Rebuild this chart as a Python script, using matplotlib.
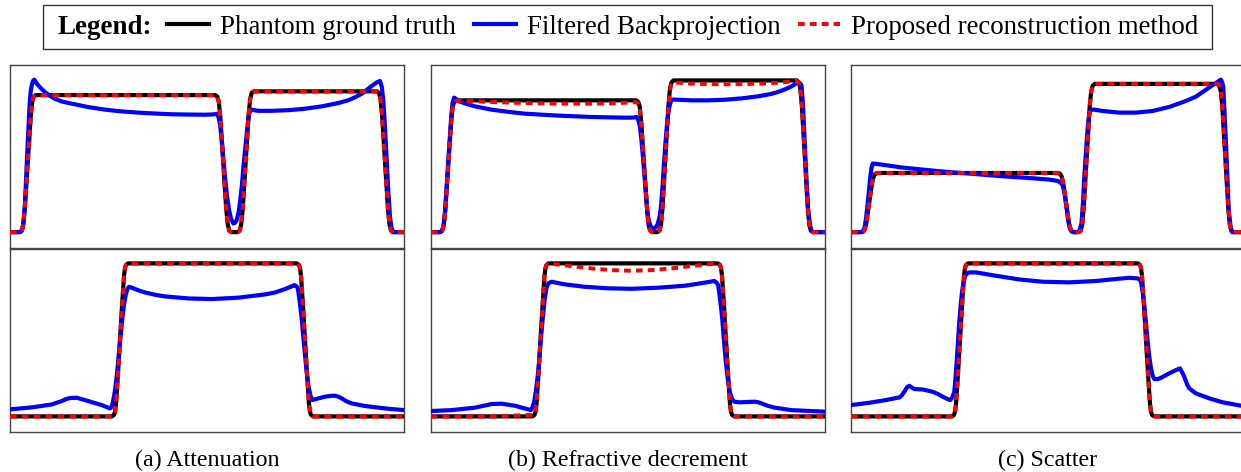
import numpy as np
import matplotlib.pyplot as plt
from matplotlib import rcParams
from matplotlib.patches import Rectangle

# ── Fonts ────────────────────────────────────────────────────────────────────
rcParams['font.family'] = 'serif'
rcParams['font.serif'] = ['Liberation Serif', 'DejaVu Serif']
rcParams['mathtext.fontset'] = 'stix'

# ── Profiles (detector pixel, normalised value) ─────────────────────────────
# top row: line profile 1 / bottom row: line profile 2
gt_a_top = [(0, 0), (9.7, 0), (11.7, 0.01), (13.2, 0.05), (14.7, 0.15), (16.2, 0.30), (17.7, 0.46),
            (19.2, 0.61), (20.7, 0.77), (22.2, 0.87), (23.7, 0.905), (25.7, 0.915),
            (205.3, 0.915), (207.3, 0.905), (208.8, 0.87), (210.3, 0.77), (211.8, 0.61), (213.3, 0.46),
            (214.8, 0.30), (216.3, 0.15), (217.8, 0.05), (219.3, 0.01), (221.3, 0),
            (227.7, 0), (229.7, 0.01), (231.2, 0.05), (232.7, 0.15), (234.2, 0.31), (235.7, 0.47),
            (237.2, 0.63), (238.7, 0.79), (240.2, 0.89), (241.7, 0.93), (243.7, 0.94),
            (367, 0.94), (369, 0.93), (370.5, 0.89), (372, 0.79), (373.5, 0.63), (375, 0.47),
            (376.5, 0.31), (378, 0.15), (379.5, 0.05), (381, 0.01), (383, 0), (394, 0)]
prop_a_top = gt_a_top
fbp_a_top = [(0, 0), (10, 0), (12, 0.01), (13.3, 0.05), (14.7, 0.16), (15.7, 0.30), (16.7, 0.45),
             (17.7, 0.59), (18.7, 0.73), (19.7, 0.86), (20.7, 0.94), (21.7, 0.98), (23, 1.01),
             (24.3, 1.018), (26, 1.0), (28.3, 0.98), (31, 0.96), (35, 0.935), (40, 0.91), (45, 0.89),
             (52, 0.872), (61.7, 0.858), (78.3, 0.835), (95, 0.818), (110, 0.807), (128, 0.798),
             (145, 0.792), (161.7, 0.787), (180, 0.785), (195, 0.784), (203, 0.786), (206.7, 0.79),
             (208.5, 0.77), (210, 0.72), (212, 0.6), (213.5, 0.48), (215, 0.37), (217, 0.24),
             (219, 0.15), (221, 0.09), (223.3, 0.058), (225, 0.062), (226.7, 0.08), (228.5, 0.13),
             (230, 0.2), (231.7, 0.30), (233.5, 0.44), (235.7, 0.59), (237.5, 0.71), (239, 0.79),
             (240.5, 0.812), (241.7, 0.818), (244, 0.814), (248.3, 0.81), (261.7, 0.81), (280, 0.815),
             (295, 0.824), (312, 0.84), (328.3, 0.862), (338, 0.88), (345, 0.90), (352, 0.925),
             (358.3, 0.958), (363, 0.982), (366.7, 1.0), (370, 1.009), (371.8, 0.97), (373.3, 0.88),
             (375, 0.7), (376.7, 0.48), (378.3, 0.28), (380, 0.10), (381.5, 0.03), (383.3, 0), (394, 0)]

gt_b_top = [(0, 0), (9.7, 0), (11.7, 0.01), (13.2, 0.045), (14.7, 0.14), (16.2, 0.29), (17.7, 0.44),
            (19.2, 0.59), (20.7, 0.74), (22.2, 0.84), (23.7, 0.87), (25.7, 0.88),
            (205.7, 0.88), (207.7, 0.87), (209.2, 0.84), (210.7, 0.74), (212.2, 0.59), (213.7, 0.44),
            (215.2, 0.29), (216.7, 0.14), (218.2, 0.045), (219.7, 0.01), (221.7, 0),
            (227, 0), (229, 0.01), (230.5, 0.05), (232, 0.16), (233.5, 0.33), (235, 0.51),
            (236.5, 0.68), (238, 0.85), (239.5, 0.96), (241, 1.0), (243, 1.013),
            (366.3, 1.013), (368.3, 1.0), (369.8, 0.96), (371.3, 0.85), (372.8, 0.68), (374.3, 0.51),
            (375.8, 0.33), (377.3, 0.16), (378.8, 0.05), (380.3, 0.01), (382.3, 0), (394, 0)]
prop_b_top = [(0, 0), (9.7, 0), (11.7, 0.01), (13.2, 0.045), (14.7, 0.14), (16.2, 0.29), (17.7, 0.44),
              (19.2, 0.59), (20.7, 0.74), (22.2, 0.84), (23.7, 0.868), (25.7, 0.878), (40, 0.875),
              (61, 0.869), (94, 0.862), (128, 0.858), (161, 0.858), (185, 0.861), (205.7, 0.868),
              (207.7, 0.86), (209.2, 0.83), (210.7, 0.73), (212.2, 0.58), (213.7, 0.44), (215.2, 0.29),
              (216.7, 0.14), (218.2, 0.045), (219.7, 0.01), (221.7, 0),
              (227, 0), (229, 0.01), (230.5, 0.05), (232, 0.16), (233.5, 0.33), (235, 0.5),
              (236.5, 0.67), (238, 0.84), (239.5, 0.95), (241, 0.99), (243, 1.0), (261, 0.991),
              (294, 0.987), (328, 0.991), (350, 0.999), (366.3, 1.009), (368.3, 1.0), (369.8, 0.96),
              (371.3, 0.85), (372.8, 0.68), (374.3, 0.51), (375.8, 0.33), (377.3, 0.16), (378.8, 0.05),
              (380.3, 0.01), (382.3, 0), (394, 0)]
fbp_b_top = [(0, 0), (9.7, 0), (11.7, 0.01), (13.2, 0.05), (14.7, 0.15), (16.2, 0.31), (17.7, 0.47),
             (19.2, 0.62), (20.7, 0.77), (22, 0.86), (23.7, 0.898), (25.5, 0.89), (27.7, 0.876),
             (35, 0.858), (44.3, 0.84), (61, 0.818), (78, 0.803), (94.3, 0.791), (127.7, 0.778),
             (161, 0.769), (194.3, 0.764), (203, 0.765), (206, 0.769), (207.8, 0.75), (209.3, 0.71),
             (210.7, 0.63), (212.2, 0.52), (213.7, 0.40), (215.2, 0.27), (216.7, 0.15), (218.2, 0.08),
             (220, 0.04), (222.7, 0.024), (225, 0.03), (227, 0.05), (229, 0.1), (230.5, 0.17),
             (232, 0.3), (233.5, 0.46), (235, 0.6), (236.5, 0.72), (237.7, 0.79), (239.3, 0.85),
             (241, 0.884), (244, 0.885), (247.7, 0.884), (261, 0.88), (278, 0.88), (294.3, 0.884),
             (311, 0.893), (327.7, 0.907), (340, 0.922), (347.7, 0.936), (355, 0.955), (361, 0.973),
             (365, 0.99), (367.7, 1.0), (369.5, 0.995), (371, 0.98), (372.5, 0.85), (374.3, 0.59),
             (376, 0.35), (377.7, 0.147), (379.5, 0.05), (380.8, 0.012), (382.7, 0), (394, 0)]

gt_c_top = [(0, 0), (10.3, 0), (12.3, 0.004), (13.8, 0.02), (15.3, 0.06), (16.8, 0.13), (18.3, 0.2),
            (19.8, 0.27), (21.3, 0.335), (22.8, 0.375), (24.3, 0.39), (26.3, 0.395),
            (207, 0.395), (209, 0.39), (210.5, 0.375), (212, 0.335), (213.5, 0.27), (215, 0.2),
            (216.5, 0.13), (218, 0.06), (219.5, 0.02), (221, 0.004), (223, 0),
            (227.7, 0), (229.7, 0.01), (231.2, 0.05), (232.7, 0.16), (234.2, 0.33), (235.7, 0.5),
            (237.2, 0.67), (238.7, 0.84), (240.2, 0.94), (241.7, 0.978), (243.7, 0.99),
            (366.3, 0.99), (368.3, 0.978), (369.8, 0.94), (371.3, 0.84), (372.8, 0.67), (374.3, 0.5),
            (375.8, 0.33), (377.3, 0.16), (378.8, 0.05), (380.3, 0.01), (382.3, 0), (394, 0)]
prop_c_top = gt_c_top
fbp_c_top = [(0, 0), (10, 0), (12, 0.005), (13.5, 0.03), (15, 0.09), (16.5, 0.18), (18, 0.28),
             (19.3, 0.37), (20.5, 0.43), (21.7, 0.458), (24, 0.457), (28.3, 0.453), (40, 0.442),
             (51.7, 0.431), (68, 0.42), (85, 0.409), (100, 0.40), (118.3, 0.391), (135, 0.382),
             (151.7, 0.373), (168, 0.366), (185, 0.358), (198, 0.351), (206.7, 0.342), (209.5, 0.33),
             (211.7, 0.313), (213.5, 0.26), (215, 0.19), (216.7, 0.1), (218.3, 0.036), (220, 0.008),
             (221.7, 0), (226, 0), (228.5, 0.01), (230.5, 0.06), (232, 0.2), (233.3, 0.369),
             (235, 0.54), (236.7, 0.70), (238, 0.78), (239, 0.809), (241, 0.818), (243.3, 0.818),
             (251.7, 0.809), (268.3, 0.798), (285, 0.798), (301.7, 0.809), (318.3, 0.836),
             (335, 0.876), (345, 0.905), (351.7, 0.936), (358, 0.965), (365, 0.996), (368, 1.01),
             (370, 1.018), (371.2, 1.0), (372.3, 0.969), (373.5, 0.8), (375, 0.59), (376.5, 0.35),
             (377.7, 0.147), (379.5, 0.04), (381, 0), (394, 0)]

gt_a_bot = [(0, 0), (102, 0), (104, 0.01), (105, 0.03), (106, 0.08), (108, 0.28), (110, 0.5),
            (112, 0.72), (114, 0.92), (115, 0.97), (116, 0.99), (118, 1), (287, 1), (289, 0.99),
            (290, 0.97), (291, 0.92), (293, 0.72), (295, 0.5), (297, 0.28), (299, 0.08), (300, 0.03),
            (301, 0.01), (303, 0), (394, 0)]
prop_a_bot = gt_a_bot
fbp_a_bot = [(0, 0.046), (21.7, 0.059), (41.7, 0.078), (51.7, 0.10), (56, 0.113), (60, 0.12),
             (66.7, 0.122), (78.3, 0.10), (91.7, 0.074), (97, 0.06), (100, 0.052), (101.3, 0.06),
             (102.3, 0.078), (104, 0.13), (105.7, 0.205), (107.5, 0.31), (109, 0.423), (110.7, 0.53),
             (112.3, 0.64), (114, 0.73), (115.7, 0.793), (117.3, 0.83), (119, 0.847), (121.7, 0.841),
             (128, 0.825), (135, 0.81), (145, 0.795), (155, 0.784), (178.3, 0.771), (201.7, 0.767),
             (228.3, 0.776), (255, 0.797), (265, 0.81), (275, 0.832), (281, 0.848), (284.3, 0.858),
             (286, 0.852), (287.7, 0.841), (289.5, 0.76), (291.7, 0.64), (293.3, 0.52), (295, 0.40),
             (296.7, 0.29), (298.3, 0.205), (300.3, 0.14), (302.3, 0.107), (305.7, 0.113),
             (315, 0.129), (322, 0.135), (325, 0.135), (328, 0.13), (331.7, 0.118), (336, 0.1),
             (341.7, 0.085), (355, 0.068), (375, 0.052), (394, 0.041)]

gt_b_bot = [(0, 0), (102, 0), (104, 0.01), (105, 0.03), (106, 0.08), (108, 0.28), (110, 0.5),
            (112, 0.72), (114, 0.92), (115, 0.97), (116, 0.99), (118, 1), (287.5, 1), (289.5, 0.99),
            (290.5, 0.97), (291.5, 0.92), (293.5, 0.72), (295.5, 0.5), (297.5, 0.28), (299.5, 0.08),
            (300.5, 0.03), (301.5, 0.01), (303.5, 0), (394, 0)]
prop_b_bot = [(0, 0), (60, 0), (90, 0.007), (101, 0.01), (104, 0.015), (105, 0.03), (106, 0.08),
              (108, 0.28), (110, 0.5), (112, 0.72), (114, 0.92), (115, 0.97), (116, 0.99), (118, 1),
              (121, 0.998), (144, 0.98), (161, 0.967), (181, 0.956), (201, 0.952), (221, 0.956),
              (241, 0.967), (261, 0.983), (281, 0.996), (287.5, 1), (289.5, 0.99), (290.5, 0.97),
              (291.5, 0.92), (293.5, 0.72), (295.5, 0.5), (297.5, 0.28), (299.5, 0.08), (300.5, 0.03),
              (301.5, 0.01), (303.5, 0), (394, 0)]
fbp_b_bot = [(0, 0.035), (21, 0.041), (44.3, 0.057), (55, 0.072), (61, 0.081), (71, 0.083),
             (84.3, 0.07), (94.3, 0.052), (100.3, 0.041), (102, 0.06), (103.7, 0.096), (105.7, 0.18),
             (107.7, 0.292), (109.3, 0.42), (111, 0.553), (112.7, 0.67), (114.3, 0.771), (116, 0.84),
             (117.7, 0.869), (121, 0.88), (134.3, 0.863), (154.3, 0.847), (177.7, 0.837), (201, 0.834),
             (227.7, 0.841), (254.3, 0.854), (274.3, 0.874), (283.7, 0.885), (286, 0.875),
             (287.7, 0.858), (289.7, 0.76), (291.7, 0.641), (293.3, 0.51), (295, 0.379), (297, 0.26),
             (299.3, 0.161), (301.5, 0.115), (303.7, 0.096), (309.3, 0.092), (316, 0.094),
             (324.3, 0.096), (328, 0.092), (331, 0.085), (337, 0.07), (344.3, 0.057), (361, 0.041),
             (394, 0.031)]

gt_c_bot = [(0, 0), (101, 0), (103, 0.01), (104, 0.03), (105, 0.08), (107, 0.28), (109, 0.5),
            (111, 0.72), (113, 0.92), (114, 0.97), (115, 0.99), (117, 1), (287, 1), (289, 0.99),
            (290, 0.97), (291, 0.92), (293, 0.72), (295, 0.5), (297, 0.28), (299, 0.08), (300, 0.03),
            (301, 0.01), (303, 0), (394, 0)]
prop_c_bot = gt_c_bot
fbp_c_bot = [(0, 0.074), (18.3, 0.089), (35, 0.107), (48.3, 0.124), (50.5, 0.135), (53.3, 0.161),
             (56, 0.19), (58.3, 0.20), (60.5, 0.19), (63.3, 0.179), (71.7, 0.176), (81.7, 0.161),
             (87, 0.146), (91.7, 0.129), (96, 0.115), (99.3, 0.107), (101.5, 0.125), (103.3, 0.161),
             (104.5, 0.25), (105.7, 0.357), (107, 0.49), (108.3, 0.619), (109.7, 0.73), (111, 0.815),
             (112.7, 0.88), (114.3, 0.919), (116, 0.935), (118.3, 0.941), (125, 0.941), (135, 0.93),
             (145, 0.919), (168.3, 0.895), (191.7, 0.88), (218.3, 0.876), (245, 0.885), (265, 0.898),
             (278.3, 0.906), (286.7, 0.902), (288.5, 0.895), (290, 0.88), (291.7, 0.81),
             (293.3, 0.728), (295, 0.61), (296.7, 0.488), (298.3, 0.39), (300, 0.314), (301.7, 0.265),
             (303.3, 0.244), (306.7, 0.244), (310, 0.252), (315, 0.27), (320, 0.287), (325, 0.303),
             (329, 0.314), (331, 0.29), (333.3, 0.259), (336, 0.21), (338.3, 0.183), (345, 0.15),
             (358.3, 0.118), (371.7, 0.092), (390, 0.07), (400, 0.062)]

captions = ['(a) Attenuation', '(b) Refractive decrement', '(c) Scatter']
labels = ['Phantom ground truth', 'Filtered Backprojection', 'Proposed reconstruction method']

panels = [
    [(gt_a_top, fbp_a_top, prop_a_top), (gt_a_bot, fbp_a_bot, prop_a_bot)],
    [(gt_b_top, fbp_b_top, prop_b_top), (gt_b_bot, fbp_b_bot, prop_b_bot)],
    [(gt_c_top, fbp_c_top, prop_c_top), (gt_c_bot, fbp_c_bot, prop_c_bot)],
]

# ── Figure ───────────────────────────────────────────────────────────────────
W, H = 1241, 472
fig = plt.figure(figsize=(W / 100, H / 100), dpi=100)

col_left = [10, 430.5, 851]          # px
ax_w = 394                            # px (last column is cropped by the page edge)
row_top = [65, 249]                   # px from top
ax_h = 182.7
ylims = [(-0.104, 1.116), (-0.100, 1.094)]

LW = 3.0
handles = None
for c, col in enumerate(panels):
    for r, (gt, fbp, prop) in enumerate(col):
        ax = fig.add_axes([col_left[c] / W, 1 - (row_top[r] + ax_h) / H, ax_w / W, ax_h / H])
        gt, fbp, prop = np.array(gt), np.array(fbp), np.array(prop)
        l1, = ax.plot(gt[:, 0], gt[:, 1], color='black', lw=LW, zorder=2)
        l2, = ax.plot(fbp[:, 0], fbp[:, 1], color='#0000ff', lw=LW, zorder=3)
        l3, = ax.plot(prop[:, 0], prop[:, 1], color='#ff0000', lw=LW * 0.95,
                      linestyle=(0, (1.7, 1.3)), zorder=4)
        ax.set_xlim(0, 394)
        ax.set_ylim(*ylims[r])
        ax.set_xticks([])
        ax.set_yticks([])
        for sp in ax.spines.values():
            sp.set_color('#444444')
            sp.set_linewidth(1.0)
        if r == 1:
            ax.set_xlabel(captions[c], fontsize=17.3, labelpad=13)
        if handles is None:
            handles = [l1, l2, l3]

# ── Legend box on top ────────────────────────────────────────────────────────
fig.add_artist(Rectangle((42.7 / W, 1 - 49 / H), (1212 - 42.7) / W, 44.3 / H,
                         transform=fig.transFigure, fill=False, lw=1.0, ec='#333333'))
fig.text(57 / W, 1 - 33.5 / H, 'Legend:', fontsize=19.4, fontweight='bold', va='baseline')
fig.legend(handles, labels, loc='center left', bbox_to_anchor=(167 / W, 1 - 27 / H),
           ncol=3, frameon=False, fontsize=19.4, handlelength=1.55, handletextpad=0.41,
           columnspacing=0.67, borderpad=0, borderaxespad=0)

plt.savefig('out.png', dpi=100)
plt.close()
